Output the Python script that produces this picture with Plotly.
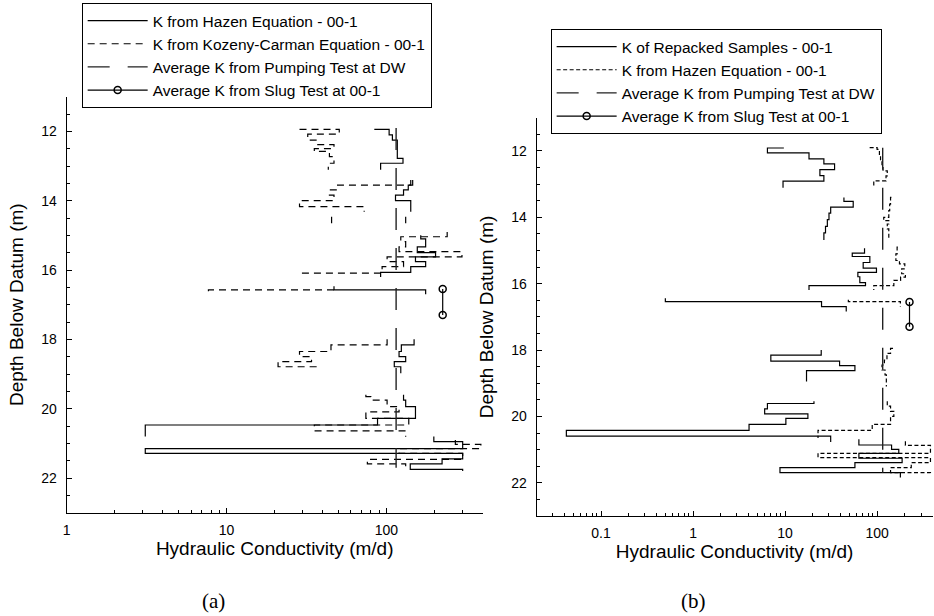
import plotly.graph_objects as go
import numpy as np

# ---- Panel (a): borehole 00-1, grain-size based K (m/d) versus depth (m) ----
# Step profiles: each point closes a sampled interval; None separates sample runs.
hazen_a_k = [84, 104, 109, 117, 127, 92, None,
             146, 146, 137, 128, 114, 142, 142, None,
             132, 132, None,
             164, 164, 176, 156, 203, 152, 176, 142, 92, None,
             47, 47, 176, None,
             149, 149, 124, 120, 132, 112, 123, None,
             128, 128, 132, 152, 88, 3.1, None,
             198, 198, 300, 3.1, 3.1, 300, 223, 141, 300]
hazen_a_depth = [11.94, 12.1, 12.25, 12.78, 12.92, 13.11, None,
                 13.4, 13.55, 13.69, 13.84, 14.0, 14.17, 14.32, None,
                 14.46, 14.65, None,
                 15.0, 15.1, 15.33, 15.5, 15.62, 15.76, 15.9, 16.07, 16.2, None,
                 16.47, 16.57, 16.7, None,
                 18.0, 18.16, 18.35, 18.5, 18.64, 18.79, 18.98, None,
                 19.6, 19.75, 19.94, 20.28, 20.47, 20.8, None,
                 20.8, 20.95, 21.15, 21.15, 21.29, 21.45, 21.59, 21.75, 21.8]

kc_a_k = [28.6, 50.7, 32.2, 36.3, 47, 35.4, 44, 47, 43.3, None,
          142, 142, 49.5, 44, 47, 28.6, 72.6, None,
          45.4, 45.4, None,
          240, 240, 123, 132, 120, 297, 101, 128, 94, 29.3, None,
          47, 7.7, None,
          101, 101, 45, 28.6, 34, 21, 36.3, None,
          74.4, 74.4, 80, 101, 120, 74.4, 138, 35.4, 132, None,
          270, 270, 390, 120, 300, 76, 132, 132]
kc_a_depth = [11.94, 12.08, 12.25, 12.38, 12.5, 12.58, 12.73, 12.92, 13.11, None,
              13.4, 13.55, 13.69, 13.84, 14.0, 14.17, 14.32, None,
              14.46, 14.65, None,
              14.9, 15.04, 15.18, 15.33, 15.47, 15.62, 15.76, 15.9, 16.09, 16.2, None,
              16.57, 16.7, None,
              18.0, 18.16, 18.35, 18.5, 18.64, 18.79, 18.9, None,
              19.6, 19.65, 19.75, 19.94, 20.09, 20.28, 20.47, 20.64, 20.81, None,
              20.9, 21.03, 21.15, 21.29, 21.46, 21.59, 21.75, 21.8]

# ---- Panel (b): repacked permeameter samples and Hazen estimate ----
rep_b_k = [9.7, 6.43, 18.2, 26.4, 34.5, 23.9, 26.4, 9.5, None,
           43.6, 43.6, 55, 31.3, 30, 28.8, 27.5, 26.4, None,
           73, 73, 53.7, 83.4, 70.6, 98.4, 61.8, 64.9, 74.8, 18.2, None,
           0.5, 0.5, 24.9, 46.2, None,
           24.7, 24.7, 7.0, 39.1, 57.4, 17.1, None,
           20.6, 20.6, 6.43, 6.0, 17.7, 10.2, 4.06, 0.042, 31.3, None,
           63.4, 63.4, 143.6, 172, 63.4, 187, 57.4, 8.8, 179]
rep_b_depth = [11.91, 12.06, 12.24, 12.39, 12.56, 12.74, 12.91, 13.11, None,
               13.4, 13.52, 13.69, 13.87, 14.07, 14.27, 14.47, 14.68, None,
               14.93, 15.08, 15.18, 15.36, 15.53, 15.66, 15.79, 15.97, 16.06, 16.19, None,
               16.44, 16.54, 16.69, 16.84, None,
               18.0, 18.15, 18.33, 18.47, 18.62, 18.95, None,
               19.54, 19.61, 19.77, 19.92, 20.06, 20.24, 20.42, 20.59, 20.77, None,
               20.69, 20.86, 20.99, 21.11, 21.26, 21.39, 21.54, 21.69, 21.84]

hazen_b_k = [83, 100, 106, 109, 113, 116, 129, 125, 92, None,
             143, 140, 137, 134, 118, 134, 129, 134, None,
             168, 165, 160, 175, 200, 185, 203, 180, 152, 92, None,
             48.7, 48.7, 179, None,
             149, 140, 128, 120, 113, 122, 126, None,
             129, 129, 140, 152, 140, 88.5, 22.8, None,
             203, 203, 380, 22.8, 22.8, 380, 235, 140, 380]
hazen_b_depth = [11.9, 11.95, 12.1, 12.3, 12.5, 12.6, 12.75, 12.9, 13.11, None,
                 13.4, 13.6, 13.8, 14.0, 14.1, 14.2, 14.35, 14.68, None,
                 14.9, 15.1, 15.3, 15.4, 15.55, 15.7, 15.8, 15.9, 16.06, 16.19, None,
                 16.48, 16.54, 16.69, None,
                 17.95, 18.1, 18.3, 18.45, 18.6, 18.75, 19.1, None,
                 19.54, 19.69, 19.85, 20.0, 20.24, 20.42, 20.65, None,
                 20.75, 20.87, 21.11, 21.11, 21.24, 21.39, 21.54, 21.69, 21.75]

# ---- Field tests (same in both panels) ----
pump_k = [115, 115]
pump_depth = [11.9, 21.7]
slug_k = [225, 225]
slug_depth = [16.55, 17.3]

# ---- Tick labels ----
ticks_a = [1, 10, 100]
ticks_b = [0.1, 1, 10, 100]
depth_ticks = [12, 14, 16, 18, 20, 22]

FONT = "Liberation Sans, Arial, sans-serif"
SERIF = "Liberation Serif, Times New Roman, serif"
BLACK = "#000000"

fig = go.Figure()


def add_panel(xa, ya, legend, first_name, first_k, first_d, first_dash,
              second_name, second_k, second_d, second_dash):
    fig.add_trace(go.Scatter(x=first_k, y=first_d, mode="lines", name=first_name,
                             line=dict(color=BLACK, width=1.2, dash=first_dash, shape="hv"),
                             connectgaps=False, xaxis=xa, yaxis=ya, legend=legend))
    fig.add_trace(go.Scatter(x=second_k, y=second_d, mode="lines", name=second_name,
                             line=dict(color=BLACK, width=1.2, dash=second_dash, shape="hv"),
                             connectgaps=False, xaxis=xa, yaxis=ya, legend=legend))
    fig.add_trace(go.Scatter(x=pump_k, y=pump_depth, mode="lines",
                             name="Average K from Pumping Test at DW",
                             line=dict(color="#222222", width=1.4, dash="22px,18px"),
                             xaxis=xa, yaxis=ya, legend=legend))
    fig.add_trace(go.Scatter(x=slug_k, y=slug_depth, mode="lines+markers",
                             name="Average K from Slug Test at 00-1",
                             line=dict(color=BLACK, width=1.2),
                             marker=dict(symbol="circle-open", size=7, color=BLACK,
                                         line=dict(width=1.5, color=BLACK)),
                             xaxis=xa, yaxis=ya, legend=legend))


add_panel("x", "y", "legend",
          "K from Hazen Equation - 00-1", hazen_a_k, hazen_a_depth, "solid",
          "K from Kozeny-Carman Equation - 00-1", kc_a_k, kc_a_depth, "7px,5px")
add_panel("x2", "y2", "legend2",
          "K of Repacked Samples - 00-1", rep_b_k, rep_b_depth, "solid",
          "K from Hazen Equation - 00-1", hazen_b_k, hazen_b_depth, "4px,2.5px")

W, H = 934, 616


def minor_vals(lo_exp, hi_exp):
    return [m * 10.0 ** e for e in range(lo_exp, hi_exp + 1) for m in range(2, 10)]


common_x = dict(type="log", showline=True, linecolor=BLACK, linewidth=1.2,
                ticks="inside", ticklen=5, tickwidth=1, tickcolor=BLACK,
                ticklabelstandoff=4,
                showgrid=False, zeroline=False, mirror=False,
                tickfont=dict(family=FONT, size=14, color=BLACK),
                title=dict(text="Hydraulic Conductivity (m/d)",
                           font=dict(family=FONT, size=19, color=BLACK), standoff=2))
common_y = dict(range=[23, 11], showline=True, linecolor=BLACK, linewidth=1.2,
                ticks="inside", ticklen=5, tickwidth=1, tickcolor=BLACK,
                ticklabelstandoff=6,
                tickmode="array", tickvals=depth_ticks,
                minor=dict(ticks="inside", ticklen=3, tickcolor=BLACK, dtick=0.5, tick0=11),
                showgrid=False, zeroline=False, mirror=False,
                tickfont=dict(family=FONT, size=14, color=BLACK),
                title=dict(text="Depth Below Datum (m)",
                           font=dict(family=FONT, size=19, color=BLACK), standoff=12))

legend_style = dict(xanchor="left", yanchor="top", bordercolor=BLACK, borderwidth=1,
                    bgcolor="white", font=dict(family=FONT, size=15.5, color=BLACK),
                    itemwidth=60, tracegroupgap=0)

fig.update_layout(
    width=W, height=H,
    margin=dict(l=0, r=0, t=0, b=0),
    paper_bgcolor="white", plot_bgcolor="white",
    xaxis=dict(common_x, domain=[63 / W, 480.7 / W], anchor="y",
               range=[0, np.log10(400)], tickmode="array",
               tickvals=ticks_a, ticktext=[f"{v:g}" for v in ticks_a],
               minor=dict(ticks="inside", ticklen=3, tickcolor=BLACK,
                          tickmode="array", tickvals=minor_vals(0, 2))),
    yaxis=dict(common_y, domain=[1 - 512.7 / H, 1 - 96.7 / H], anchor="x"),
    xaxis2=dict(common_x, domain=[535 / W, 932.5 / W], anchor="y2",
                range=[np.log10(0.02), np.log10(400)], tickmode="array",
                tickvals=ticks_b, ticktext=[f"{v:g}" for v in ticks_b],
                minor=dict(ticks="inside", ticklen=3, tickcolor=BLACK,
                           tickmode="array", tickvals=minor_vals(-2, 2))),
    yaxis2=dict(common_y, domain=[1 - 516 / H, 1 - 117.8 / H], anchor="x2"),
    legend=dict(legend_style, x=78 / W, y=1 - 3 / H),
    legend2=dict(legend_style, x=549 / W, y=1 - 29 / H),
    annotations=[
        dict(text="(a)", x=210.5 / W, y=1 - 601 / H, xref="paper", yref="paper",
             xanchor="center", yanchor="middle", showarrow=False,
             font=dict(family=SERIF, size=21, color=BLACK)),
        dict(text="(b)", x=692 / W, y=1 - 601 / H, xref="paper", yref="paper",
             xanchor="center", yanchor="middle", showarrow=False,
             font=dict(family=SERIF, size=21, color=BLACK)),
    ],
)

fig.write_html("out.html")
